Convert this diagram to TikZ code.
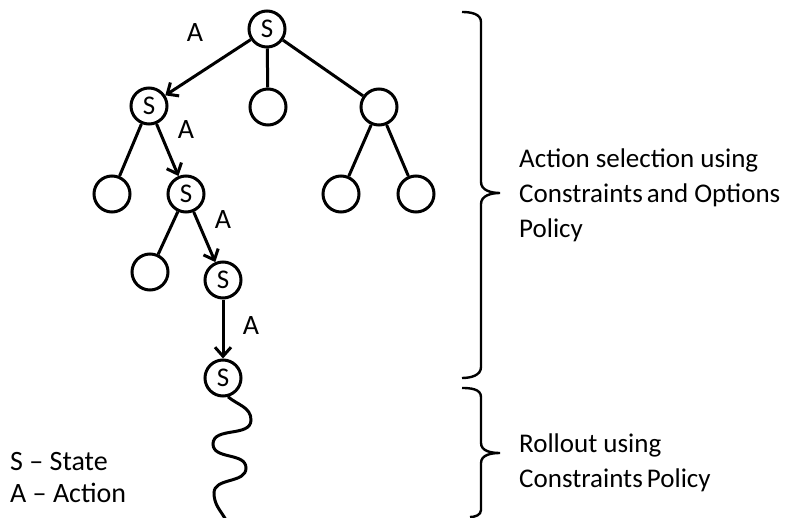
\documentclass[tikz,border=0pt]{standalone}
\usepackage{fontspec}
\setmainfont{Carlito}
\usetikzlibrary{arrows.meta}
\begin{document}
\begin{tikzpicture}[x=1pt,y=-1pt,
  st/.style={circle,draw,line width=3pt,minimum size=36pt,inner sep=0pt,font=\fontsize{27}{28}\selectfont},
  edge/.style={line width=3pt},
  arr/.style={line width=3pt,-{Straight Barb[length=9pt,width=16pt,line width=3pt]}},
  lbl/.style={font=\fontsize{28}{32}\selectfont,inner sep=0pt},
  txt/.style={font=\fontsize{27}{32}\selectfont,inner sep=0pt,anchor=base west},
  leg/.style={font=\fontsize{28}{32}\selectfont,inner sep=0pt,anchor=base west},
  brace/.style={line width=2.4pt}]
\useasboundingbox (0,0) rectangle (791,518);
% tree nodes
\node[st] (r) at (267,29) {S};
\node[st] (a) at (149,106) {S};
\node[st] (m) at (268,107) {};
\node[st] (b) at (379,107) {};
\node[st] (a1) at (112,194) {};
\node[st] (c) at (186,194) {S};
\node[st] (b1) at (341,194) {};
\node[st] (b2) at (416,194) {};
\node[st] (c1) at (150,272) {};
\node[st] (d) at (223,280) {S};
\node[st] (e) at (223,378) {S};
% edges
\draw[arr] (r) -- (a);
\draw[edge] (r) -- (m);
\draw[edge] (r) -- (b);
\draw[edge] (a) -- (a1);
\draw[arr] (a) -- (c);
\draw[edge] (b) -- (b1);
\draw[edge] (b) -- (b2);
\draw[edge] (c) -- (c1);
\draw[arr] (c) -- (d);
\draw[arr] (d) -- (e);
% action labels
\node[lbl] (l1) at (195,33) {A};
\node[lbl] (l2) at (186,130) {A};
\node[lbl] (l3) at (223,220) {A};
\node[lbl] (l4) at (251,326) {A};
% rollout wave
\coordinate (w1) at (251,420);
\coordinate (w2) at (213,444);
\coordinate (w3) at (246,468);
\coordinate (w4) at (214,493);
\coordinate (w5) at (226,520);
\draw[edge] (e.-75) to[out=-40,in=90] (w1) to[out=-90,in=90] (w2)
  to[out=-90,in=90] (w3) to[out=-90,in=90] (w4) to[out=-90,in=120] (w5);
% braces
\draw[brace] (462,12) to[out=0,in=90] (481,22) -- (481,182)
  to[out=-90,in=180] (500,193) to[out=180,in=90] (481,204) -- (481,367)
  to[out=-90,in=0] (462,378);
\draw[brace] (462,388) to[out=0,in=90] (481,397) -- (481,443)
  to[out=-90,in=180] (500,453) to[out=180,in=90] (481,463) -- (481,510)
  to[out=-90,in=0] (470,517);
% texts
\node[txt] (t1) at (519,168) {Action selection using};
\node[txt] (t2) at (519,203) {Constraints\hspace{-2pt} and Options};
\node[txt] (t3) at (519,238) {Policy};
\node[txt] (t4) at (519,452) {Rollout using};
\node[txt] (t5) at (519,487) {Constraints\hspace{-2pt} Policy};
\node[leg] (g1) at (10,470) {S -- State};
\node[leg] (g2) at (10,502) {A -- Action};
\end{tikzpicture}
\end{document}
